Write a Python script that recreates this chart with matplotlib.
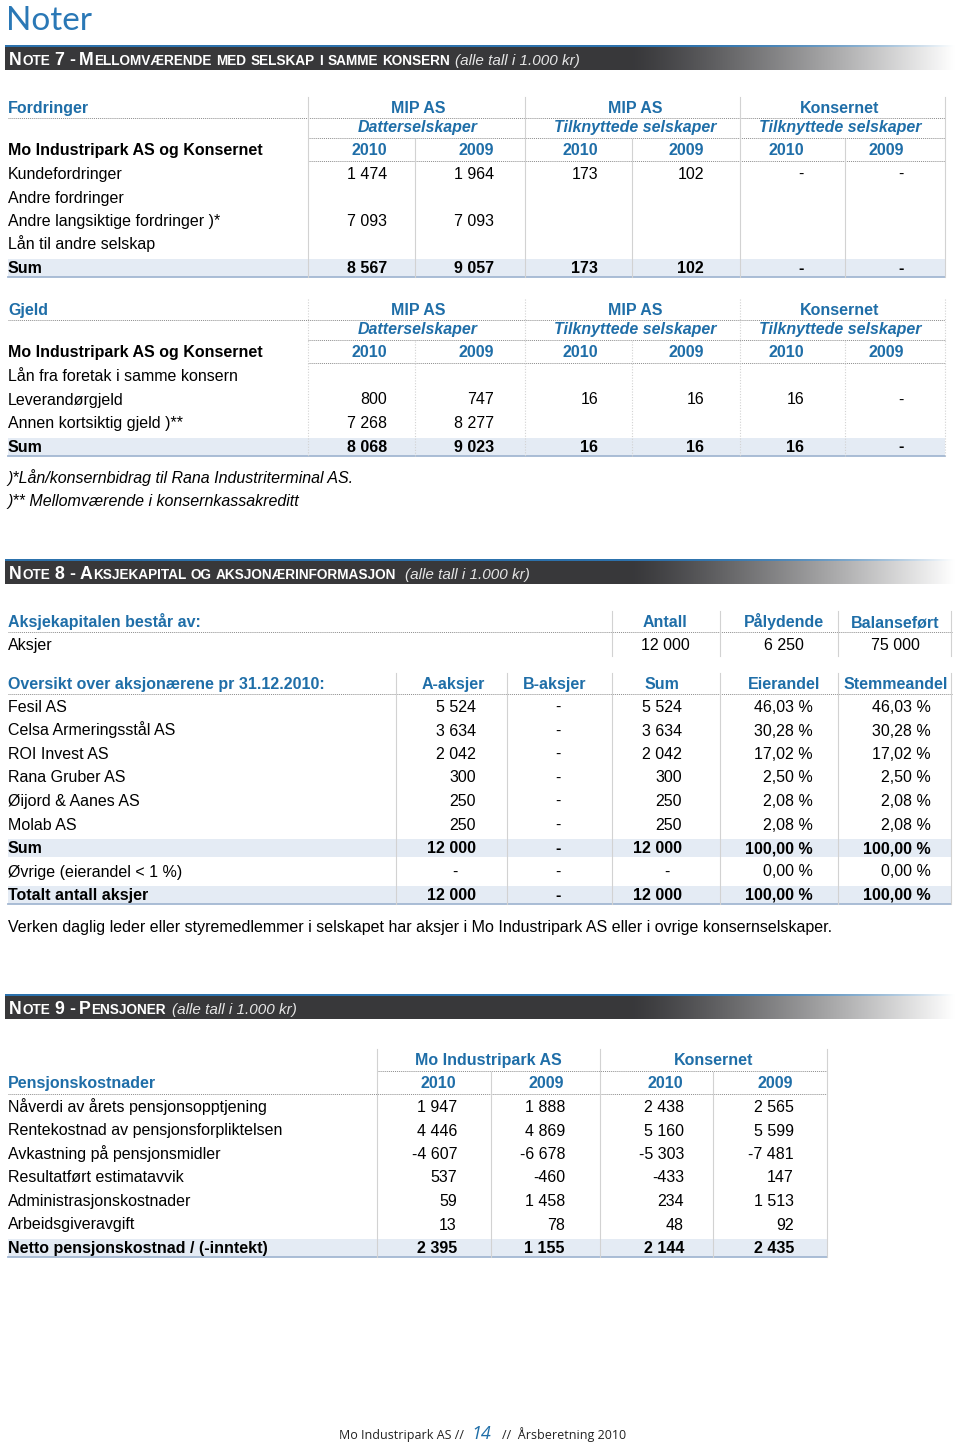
import numpy as np
import matplotlib
matplotlib.use("Agg")
import matplotlib.pyplot as plt
from matplotlib.patches import Rectangle

# ---- data -------------------------------------------------------------
note7_years = ["2010", "2009", "2010", "2009", "2010", "2009"]
note7_groups = [("MIP AS", "Datterselskaper"),
                ("MIP AS", "Tilknyttede selskaper"),
                ("Konsernet", "Tilknyttede selskaper")]

fordringer_rows = ["Kundefordringer", "Andre fordringer",
                   "Andre langsiktige fordringer )*", "Lån til andre selskap"]
fordringer_vals = [[1474, 1964, 173, 102, 0, 0],
                   [None] * 6,
                   [7093, 7093, None, None, None, None],
                   [None] * 6]
fordringer_sum = [8567, 9057, 173, 102, 0, 0]

gjeld_rows = ["Lån fra foretak i samme konsern", "Leverandørgjeld",
              "Annen kortsiktig gjeld )**"]
gjeld_vals = [[None] * 6,
              [800, 747, 16, 16, 16, 0],
              [7268, 8277, None, None, None, None]]
gjeld_sum = [8068, 9023, 16, 16, 16, 0]

capital_heads = ["Antall", "Pålydende", "Balanseført"]
capital_vals = [12000, 6250, 75000]

owner_heads = ["A-aksjer", "B-aksjer", "Sum", "Eierandel", "Stemmeandel"]
owners = ["Fesil AS", "Celsa Armeringsstål AS", "ROI Invest AS",
          "Rana Gruber AS", "Øijord & Aanes AS", "Molab AS"]
a_shares = [5524, 3634, 2042, 300, 250, 250]
b_shares = [0, 0, 0, 0, 0, 0]
sum_shares = [5524, 3634, 2042, 300, 250, 250]
owner_pct = [46.03, 30.28, 17.02, 2.50, 2.08, 2.08]
vote_pct = [46.03, 30.28, 17.02, 2.50, 2.08, 2.08]
owner_extra = [("Sum", [12000, 0, 12000], [100.00, 100.00], True),
               ("Øvrige (eierandel < 1 %)", [0, 0, 0], [0.00, 0.00], False),
               ("Totalt antall aksjer", [12000, 0, 12000], [100.00, 100.00], True)]

pension_items = ["Nåverdi av årets pensjonsopptjening",
                 "Rentekostnad av pensjonsforpliktelsen",
                 "Avkastning på pensjonsmidler",
                 "Resultatført estimatavvik",
                 "Administrasjonskostnader",
                 "Arbeidsgiveravgift"]
mip_2010 = [1947, 4446, -4607, 537, 59, 13]
mip_2009 = [1888, 4869, -6678, -460, 1458, 78]
kons_2010 = [2438, 5160, -5303, -433, 234, 48]
kons_2009 = [2565, 5599, -7481, 147, 1513, 92]
pension_net = [2395, 1155, 2144, 2435]

# ---- style ------------------------------------------------------------
FONT = "Liberation Sans"
BLUE = "#1f6ea8"
SUMBG = "#e4ebf4"
SUMLINE = "#a3b8d2"
GRID = "#d2d2d2"
DOT = "#8c8c8c"
FS = 11.5
BASE = 5  # baseline offset from row centre (px)

plt.rcParams["font.family"] = [FONT, "DejaVu Sans"]

fig = plt.figure(figsize=(9.6, 14.43), dpi=100)
ax = fig.add_axes([0, 0, 1, 1])
ax.set_xlim(0, 960)
ax.set_ylim(1443, 0)
ax.axis("off")
renderer = fig.canvas.get_renderer()


def fmt(v):
    if v is None:
        return ""
    if v == 0:
        return "-"
    s = f"{abs(v):,}".replace(",", " ")
    return "-" + s if v < 0 else s


def pct(p):
    return f"{p:.2f}".replace(".", ",") + " %"


def txt(x, y, s, ha="left", color="black", bold=False, italic=False, size=FS, **kw):
    return ax.text(x, y + BASE, s, ha=ha, va="baseline", color=color, fontsize=size,
                   fontweight="bold" if bold else "normal",
                   fontstyle="italic" if italic else "normal", **kw)


def hdot(x0, x1, y):
    ax.plot([x0, x1], [y, y], color=DOT, lw=0.7, ls=(0, (1, 1)))


def vline(x, y0, y1, dotted=False):
    ax.plot([x, x], [y0, y1], color=GRID, lw=0.8, ls=(0, (1, 1.5)) if dotted else "-")


def sum_band(x0, x1, yc, rule=True):
    ax.add_patch(Rectangle((x0, yc - 9), x1 - x0, 18, color=SUMBG, lw=0, zorder=0))
    if rule:
        ax.plot([x0, x1], [yc + 9, yc + 9], color=SUMLINE, lw=1.3)


def banner(ytop, parts):
    # blue top rule and dark bar fading to white
    n = 600
    xs = np.linspace(0, 1, n)
    fade = np.clip((xs - 0.66) / 0.34, 0, 1) ** 1.2
    dark = np.array([0.22, 0.22, 0.23])
    rgb = dark[None, :] * (1 - fade[:, None]) + fade[:, None]
    ax.imshow(rgb[None, :, :], extent=(5, 955, ytop + 25, ytop + 2), aspect="auto",
              interpolation="bilinear", zorder=1)
    blue = np.array(matplotlib.colors.to_rgb("#2c72ad"))
    brgb = blue[None, :] * (1 - fade[:, None] ** 2) + fade[:, None] ** 2
    ax.imshow(brgb[None, :, :], extent=(5, 955, ytop + 2, ytop), aspect="auto",
              interpolation="bilinear", zorder=1)
    x = 9
    yb = ytop + 20
    big, small = 12.8, 9.8
    gap = 3.8
    for kind, s in parts:
        if kind == "caps":
            for w in s.split(" "):
                runs = []
                for c in w:
                    low = c.islower()
                    if runs and runs[-1][0] == low:
                        runs[-1][1] += c
                    else:
                        runs.append([low, c])
                for low, r in runs:
                    t = ax.text(x, yb, r.upper(), fontsize=small if low else big,
                                fontweight="bold", color="white", va="baseline",
                                ha="left", zorder=2)
                    x = t.get_window_extent(renderer).x1 + 0.6
                x += gap
        else:
            ax.text(x + 1, yb, s, fontsize=11, fontstyle="italic", color="#e6e6e6",
                    va="baseline", ha="left", zorder=2)


# ---- title ------------------------------------------------------------
ax.text(6, 30, "Noter", fontsize=24, color="#2a78b6", family=["Lato", FONT],
        fontweight="normal", va="baseline")

# ---- note 7 -----------------------------------------------------------
banner(45, [("caps", "Note 7 - Mellomværende med selskap i samme konsern"),
            ("it", "(alle tall i 1.000 kr)")])

seps7 = [308, 415, 525, 632, 740, 845, 945]
right7 = [387, 494, 598, 704, 804, 904]
group_cx = [418, 635, 840]


def note7_table(top, title, rows, vals, sums, dotted):
    sub_y, year_y = top + 19, top + 42
    row_y = [top + 66 + 23.5 * i for i in range(len(rows))]
    sum_y = row_y[-1] + 23.5
    txt(8, top, title, color=BLUE, bold=True)
    for cx, (g, sub) in zip(group_cx, note7_groups):
        txt(cx, top, g, ha="center", color=BLUE, bold=True)
        txt(cx, sub_y, sub, ha="center", color=BLUE, bold=True, italic=True)
    txt(8, year_y, "Mo Industripark AS og Konsernet", bold=True)
    for rx, yr in zip(right7, note7_years):
        txt(rx, year_y, yr, ha="right", color=BLUE, bold=True)
    hdot(8, 945, top + 10)
    hdot(308, 945, sub_y + 11)
    hdot(308, 945, year_y + 11)
    for y, lab, vv in zip(row_y, rows, vals):
        txt(8, y, lab)
        for rx, v in zip(right7, vv):
            txt(rx, y, fmt(v), ha="right")
    sum_band(8, 945, sum_y)
    txt(8, sum_y, "Sum", bold=True)
    for rx, v in zip(right7, sums):
        txt(rx, sum_y, fmt(v), ha="right", bold=True)
    for i, x in enumerate(seps7):
        y0 = top - 11 if i % 2 == 0 else year_y - 11
        vline(x, y0, sum_y + 9, dotted)


note7_table(108, "Fordringer", fordringer_rows, fordringer_vals, fordringer_sum, False)
note7_table(310, "Gjeld", gjeld_rows, gjeld_vals, gjeld_sum, True)

txt(8, 478, ")*Lån/konsernbidrag til Rana Industriterminal AS.", italic=True)
txt(8, 501, ")** Mellomværende i konsernkassakreditt", italic=True)

# ---- note 8 -----------------------------------------------------------
banner(559, [("caps", "Note 8 - Aksjekapital og aksjonærinformasjon "),
             ("it", "(alle tall i 1.000 kr)")])

cap_cx = [665, 784, 895]
txt(8, 622, "Aksjekapitalen består av:", color=BLUE, bold=True)
for cx, h in zip(cap_cx, capital_heads):
    txt(cx, 622, h, ha="center", color=BLUE, bold=True)
hdot(8, 952, 632)
txt(8, 645, "Aksjer")
for cx, v in zip(cap_cx, capital_vals):
    txt(cx, 645, fmt(v), ha="center")
for x in [612, 720, 838, 951]:
    vline(x, 611, 656)

own_cx = [453, 555, 662, 784, 896]
share_right = [476, None, 682]
dash_cx = [455, 558, 667]
pct_right = [813, 931]
txt(8, 684, "Oversikt over aksjonærene pr 31.12.2010:", color=BLUE, bold=True)
for cx, h in zip(own_cx, owner_heads):
    txt(cx, 684, h, ha="center", color=BLUE, bold=True)
hdot(8, 952, 694)


def share_row(y, label, shares, pcts, bold):
    txt(8, y, label, bold=bold)
    for i, v in enumerate(shares):
        if v == 0:
            txt(dash_cx[i], y, "-", ha="center", bold=bold)
        else:
            txt(share_right[i], y, fmt(v), ha="right", bold=bold)
    for rx, p in zip(pct_right, pcts):
        txt(rx, y, pct(p), ha="right", bold=bold)


rows8 = list(zip(owners, zip(a_shares, b_shares, sum_shares), zip(owner_pct, vote_pct)))
y = 707
for name, sh, pp in rows8:
    share_row(y, name, sh, pp, False)
    y += 23.5
for k, (name, sh, pp, bold) in enumerate(owner_extra):
    if bold:
        sum_band(8, 951, y, rule=(k == len(owner_extra) - 1))
    share_row(y, name, sh, pp, bold)
    y += 23.5
for x in [396, 507, 612, 720, 838, 951]:
    vline(x, 673, 904)

txt(8, 927, "Verken daglig leder eller styremedlemmer i selskapet har aksjer i "
            "Mo Industripark AS eller i ovrige konsernselskaper.")

# ---- note 9 -----------------------------------------------------------
banner(994, [("caps", "Note 9 - Pensjoner"), ("it", "(alle tall i 1.000 kr)")])

pen_right = [457, 565, 684, 794]
pen_years = ["2010", "2009", "2010", "2009"]
txt(488, 1060, "Mo Industripark AS", ha="center", color=BLUE, bold=True)
txt(714, 1060, "Konsernet", ha="center", color=BLUE, bold=True)
hdot(377, 827, 1071)
txt(8, 1083, "Pensjonskostnader", color=BLUE, bold=True)
for rx, yr in zip(pen_right, pen_years):
    txt(rx - 1, 1083, yr, ha="right", color=BLUE, bold=True)
hdot(8, 827, 1094)
y = 1107
for item, vals in zip(pension_items, zip(mip_2010, mip_2009, kons_2010, kons_2009)):
    txt(8, y, item)
    for rx, v in zip(pen_right, vals):
        txt(rx, y, fmt(v), ha="right")
    y += 23.5
sum_band(8, 827, y)
txt(8, y, "Netto pensjonskostnad / (-inntekt)", bold=True)
for rx, v in zip(pen_right, pension_net):
    txt(rx, y, fmt(v), ha="right", bold=True)
for x in [377, 600, 827]:
    vline(x, 1049, y + 9)
for x in [491, 713]:
    vline(x, 1072, y + 9)

# ---- footer -----------------------------------------------------------
ff = ["Open Sans", FONT]
ax.text(339, 1439, "Mo Industripark AS //", fontsize=9, family=ff, va="baseline", color="#222")
ax.text(471, 1439, "14", fontsize=13, family=ff, fontstyle="italic", color=BLUE, va="baseline")
ax.text(502, 1439, "//  Årsberetning 2010", fontsize=9, family=ff, va="baseline", color="#222")

fig.savefig("out.png", dpi=100)
